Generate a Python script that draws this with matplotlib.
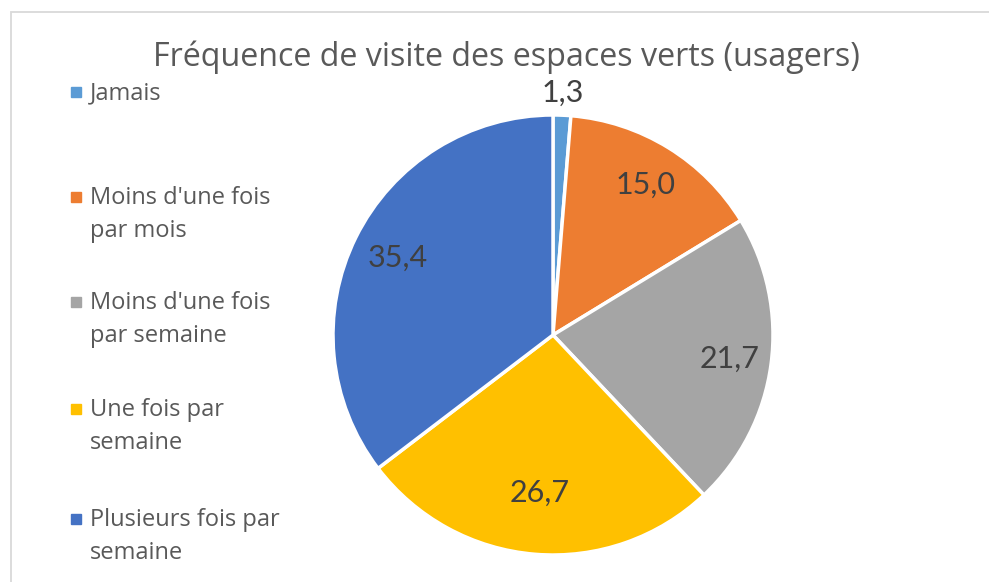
import numpy as np
import matplotlib
matplotlib.use('Agg')
import matplotlib.pyplot as plt
from matplotlib.patches import Rectangle

# données
categories = ['Jamais', "Moins d'une fois\npar mois", "Moins d'une fois\npar semaine",
              'Une fois par\nsemaine', 'Plusieurs fois par\nsemaine']
valeurs = [1.3, 15.0, 21.7, 26.7, 35.4]
couleurs = ['#5B9BD5', '#ED7D31', '#A5A5A5', '#FFC000', '#4472C4']
titre = 'Fréquence de visite des espaces verts (usagers)'

W, H = 989, 582
fig = plt.figure(figsize=(W / 100, H / 100), dpi=100)

# cadre du graphique
fig.patches.append(Rectangle((11 / W, -0.1), 1.2, (H - 12) / H + 0.1, transform=fig.transFigure,
                             fill=False, edgecolor='#D9D9D9', linewidth=1.3))

cx, cy, r = 553, 335, 220
ax = fig.add_axes([(cx - r) / W, (H - cy - r) / H, 2 * r / W, 2 * r / H])
wedges, _ = ax.pie(valeurs, colors=couleurs, startangle=90, counterclock=False,
                   wedgeprops=dict(edgecolor='white', linewidth=2.5))
ax.set_aspect('equal')
ax.set_xlim(-1, 1)
ax.set_ylim(-1, 1)

# étiquettes de valeurs (distance au centre, en rayon)
dist = [1.1, 0.8, 0.81, 0.72, 0.79]
for w, v, d in zip(wedges, valeurs, dist):
    mid = np.deg2rad((w.theta1 + w.theta2) / 2)
    ax.text(d * np.cos(mid), d * np.sin(mid), f'{v:.1f}'.replace('.', ','),
            ha='center', va='center', fontsize=22, color='#404040', family='Lato',
            clip_on=False)

fig.text(506 / W, 1 - 57 / H, titre, ha='center', va='center', fontsize=23.2,
         color='#595959', family='Open Sans')

# légende
ys = [93, 198, 303, 410, 520]
for y, lab, c in zip(ys, categories, couleurs):
    fig.patches.append(Rectangle((71 / W, 1 - (y + 4) / H), 10 / W, 10 / H,
                                 transform=fig.transFigure, color=c))
    fig.text(90 / W, 1 - (y - 12) / H, lab, ha='left', va='top', fontsize=17,
             color='#595959', family='Open Sans', linespacing=1.52)

fig.savefig('out.png', dpi=100)
